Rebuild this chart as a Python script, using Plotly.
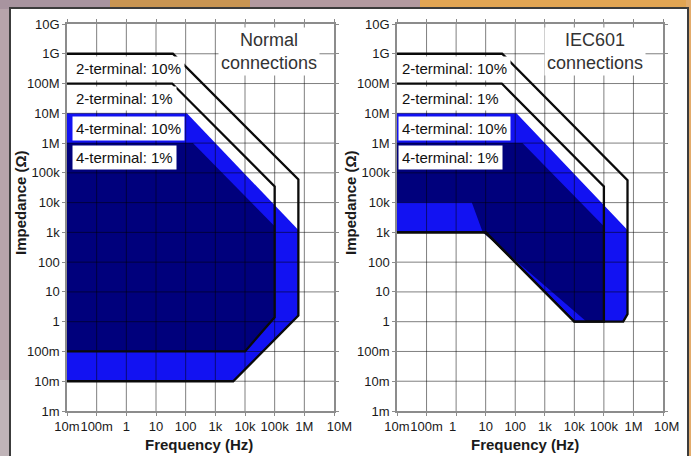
import math
import plotly.graph_objects as go

W, H = 691, 456
FONT = "Liberation Sans, Arial, sans-serif"

# ---- axis ticks ----
freq_ticks = [1e-2, 1e-1, 1, 10, 100, 1e3, 1e4, 1e5, 1e6, 1e7]
freq_labels = ["10m", "100m", "1", "10", "100", "1k", "10k", "100k", "1M", "10M"]
imp_ticks = [1e-3, 1e-2, 1e-1, 1, 10, 100, 1e3, 1e4, 1e5, 1e6, 1e7, 1e8, 1e9, 1e10]
imp_labels = ["1m", "10m", "100m", "1", "10", "100", "1k", "10k", "100k",
              "1M", "10M", "100M", "1G", "10G"]

# ---- Normal connections (frequency Hz, impedance Ohm) ----
normal_4t10_f = [0.01, 110, 6.3e5, 6.3e5, 4e3, 0.01]
normal_4t10_z = [1e7, 1e7, 1.2e3, 1.6, 0.01, 0.01]
normal_4t1_f = [0.01, 175, 1e5, 1e5, 1e4, 0.01]
normal_4t1_z = [1e6, 1e6, 1.6e3, 1.4, 0.1, 0.1]
normal_2t10_f = [0.01, 37, 6.3e5, 6.3e5, 4e3, 0.01]
normal_2t10_z = [1e9, 1e9, 6e4, 1.6, 0.01, 0.01]
normal_2t1_f = [0.01, 35, 1e5, 1e5, 1e4, 0.01]
normal_2t1_z = [1e8, 1e8, 3.5e4, 1.4, 0.1, 0.1]

# ---- IEC601 connections ----
iec_4t10_f = [0.01, 110, 6.3e5, 6.3e5, 4.5e5, 1e4, 10, 0.01]
iec_4t10_z = [1e7, 1e7, 1.2e3, 1.8, 1, 1, 1e3, 1e3]
iec_4t1_f = [0.01, 175, 1e5, 1e5, 2.6e4, 8, 3.4, 0.01]
iec_4t1_z = [1e6, 1e6, 1.6e3, 1, 1, 1e3, 1e4, 1e4]
iec_2t10_f = [0.01, 36, 6.3e5, 6.3e5, 4.5e5, 1e4, 10, 0.01]
iec_2t10_z = [1e9, 1e9, 5.7e4, 1.8, 1, 1, 1e3, 1e3]
iec_2t1_f = [0.01, 35, 1e5, 1e5, 1e4, 10, 0.01]
iec_2t1_z = [1e8, 1e8, 3.5e4, 1, 1, 1e3, 1e3]

region_labels = ["2-terminal: 10%", "2-terminal: 1%", "4-terminal: 10%", "4-terminal: 1%"]
region_label_z = [10 ** 8.5, 10 ** 7.5, 10 ** 6.5, 10 ** 5.5]
panel_titles = ["Normal<br>connections", "IEC601<br>connections"]

# visual nudges of x tick labels (non-breaking spaces; + = leading, - = trailing)
pad_left = [0, 0, 0, 0, 0, 0, 0, 0, 0, 3]
pad_right = [0, 0, -2, 0, 0, 0, 0, 0, 0, 2]

LIGHT = "#1212f2"
DARK = "#00007c"
GRID = "rgba(0,0,0,0.5)"
BLACK = "#0a0a0a"
NB = "\u00a0"


def padded(labels, pads):
    out = []
    for t, p in zip(labels, pads):
        out.append(NB * p + t if p >= 0 else t + NB * (-p))
    return out


fig = go.Figure()


def grid_xy(xt, yt):
    gx, gy = [], []
    for v in xt[1:-1]:
        gx += [v, v, None]
        gy += [yt[0], yt[-1], None]
    for v in yt[1:-1]:
        gx += [xt[0], xt[-1], None]
        gy += [v, v, None]
    return gx, gy


panels = [
    ("x", "y", normal_4t10_f, normal_4t10_z, normal_4t1_f, normal_4t1_z,
     normal_2t10_f, normal_2t10_z, normal_2t1_f, normal_2t1_z),
    ("x2", "y2", iec_4t10_f, iec_4t10_z, iec_4t1_f, iec_4t1_z,
     iec_2t10_f, iec_2t10_z, iec_2t1_f, iec_2t1_z),
]

for (xa, ya, f10, z10, f1, z1, g10, h10, g1, h1) in panels:
    fig.add_trace(go.Scatter(x=f10, y=z10, fill="toself", fillcolor=LIGHT, mode="lines",
                             line=dict(width=0, color=LIGHT), xaxis=xa, yaxis=ya,
                             hoverinfo="skip", showlegend=False))
    fig.add_trace(go.Scatter(x=f1, y=z1, fill="toself", fillcolor=DARK, mode="lines",
                             line=dict(width=0, color=DARK), xaxis=xa, yaxis=ya,
                             hoverinfo="skip", showlegend=False))
    gx, gy = grid_xy(freq_ticks, imp_ticks)
    fig.add_trace(go.Scatter(x=gx, y=gy, mode="lines", line=dict(width=1, color=GRID),
                             xaxis=xa, yaxis=ya, hoverinfo="skip", showlegend=False))
    fig.add_trace(go.Scatter(x=g10, y=h10, mode="lines", line=dict(width=2.3, color=BLACK),
                             xaxis=xa, yaxis=ya, hoverinfo="skip", showlegend=False))
    fig.add_trace(go.Scatter(x=g1, y=h1, mode="lines", line=dict(width=2.3, color=BLACK),
                             xaxis=xa, yaxis=ya, hoverinfo="skip", showlegend=False))

axis_common = dict(type="log", showgrid=False, zeroline=False, showline=True,
                   linecolor="#8c8c8c", linewidth=1.5, mirror="ticks", ticks="outside",
                   ticklen=3, tickcolor="#8c8c8c", tickangle=0,
                   tickfont=dict(family=FONT, size=13, color="#1a1a1a"),
                   fixedrange=True, automargin=False)

ytop, ybot = 1 - 24 / H, 1 - 411 / H
fig.update_layout(
    width=W, height=H,
    margin=dict(l=0, r=0, t=0, b=0),
    paper_bgcolor="#c69c86",
    plot_bgcolor="white",
    xaxis=dict(axis_common, range=[-2, 7], tickvals=freq_ticks,
               ticktext=padded(freq_labels, pad_left),
               domain=[67 / W, 334 / W], anchor="y"),
    yaxis=dict(axis_common, range=[-3, 10], tickvals=imp_ticks, ticktext=imp_labels,
               domain=[ybot, ytop], anchor="x"),
    xaxis2=dict(axis_common, range=[-2, 7], tickvals=freq_ticks,
                ticktext=padded(freq_labels, pad_right),
                domain=[397 / W, 663 / W], anchor="y2"),
    yaxis2=dict(axis_common, range=[-3, 10], tickvals=imp_ticks, ticktext=imp_labels,
                domain=[ybot, ytop], anchor="x2"),
    showlegend=False,
)

# background texture approximation + white panel
bg_blocks = [
    (0, 0, 12, H, "#b7a4ab"),
    (0, 0, 110, 9, "#a8949f"),
    (110, 0, 250, 9, "#c99552"),
    (250, 0, 420, 9, "#b39aa0"),
    (420, 0, 691, 9, "#e2a553"),
    (686, 0, 691, H, "#e3ac6c"),
    (0, 380, 12, H, "#c0b4b8"),
]
shapes = []
for (x0, y0, x1, y1, c) in bg_blocks:
    shapes.append(dict(type="rect", xref="paper", yref="paper", x0=x0 / W, x1=x1 / W,
                       y0=1 - y1 / H, y1=1 - y0 / H, fillcolor=c, line=dict(width=0),
                       layer="below"))
shapes.append(dict(type="rect", xref="paper", yref="paper", x0=10 / W, x1=688 / W,
                   y0=-0.05, y1=1 - 8 / H, fillcolor="white",
                   line=dict(color="#3c3c3c", width=2), layer="below"))
fig.update_layout(shapes=shapes)

ann = []
# axis titles
for xc in (20, 350):
    ann.append(dict(text="<b>Impedance (Ω)</b>", x=xc / W, y=1 - 203 / H, xref="paper",
                    yref="paper", xanchor="center", yanchor="middle", showarrow=False,
                    textangle=-90, font=dict(family=FONT, size=15, color="#1a1a1a")))
for xc in (199, 525):
    ann.append(dict(text="<b>Frequency (Hz)</b>", x=xc / W, y=1 - 444 / H, xref="paper",
                    yref="paper", xanchor="center", yanchor="middle", showarrow=False,
                    font=dict(family=FONT, size=15, color="#1a1a1a")))
# panel titles
for (xa, ya, lf, t) in (("x", "y", 4.8, panel_titles[0]), ("x2", "y2", 4.69, panel_titles[1])):
    ann.append(dict(text=t, x=lf, y=9.08, xref=xa, yref=ya, showarrow=False,
                    bgcolor="white", borderpad=2,
                    font=dict(family=FONT, size=18, color="#333333")))
# region labels
for (xa, ya, lf) in (("x", "y", -1.83), ("x2", "y2", -1.97)):
    for lbl, z in zip(region_labels, region_label_z):
        ann.append(dict(text=lbl, x=lf, y=math.log10(z), xref=xa, yref=ya,
                        xanchor="left", showarrow=False, bgcolor="white", borderpad=3,
                        font=dict(family=FONT, size=15, color="#111111")))
fig.update_layout(annotations=ann)

fig.write_html("out.html", config={"displayModeBar": False},
               post_script="document.body.style.margin='0';document.body.style.overflow='hidden';")
